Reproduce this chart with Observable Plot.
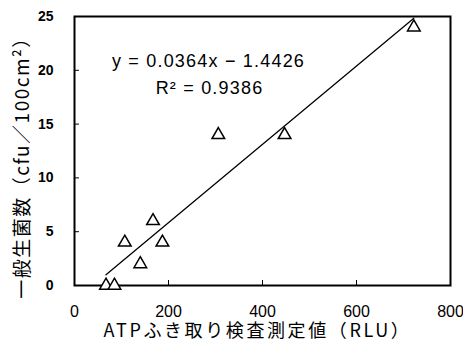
<!DOCTYPE html>
<html><head><meta charset="utf-8">
<script src="https://cdn.jsdelivr.net/npm/d3@7"></script>
<script src="https://cdn.jsdelivr.net/npm/@observablehq/plot@0.6"></script>
<style>body{margin:0;background:#fff}</style>
</head><body><div id="chart"></div>
<script>
const atpRLU = [67, 85, 107, 140, 167, 187, 306, 447, 722];
const bacteriaCount = [0, 0, 4, 2, 6, 4, 14, 14, 24];
const slope = 0.0364, intercept = -1.4426, rSquared = 0.9386;
const xTicks = [0, 200, 400, 600, 800];
const yTicks = [0, 5, 10, 15, 20, 25];
const xLabel = "ATPふき取り検査測定値（RLU）";
const yLabel = "一般生菌数（cfu／100cm²）";
const eqLabel = "y = 0.0364x − 1.4426";
const r2Label = "R² = 0.9386";

const points = atpRLU.map((x, i) => ({x, y: bacteriaCount[i]}));
const xMin = d3.min(atpRLU), xMax = d3.max(atpRLU);
const fitLine = [xMin, xMax].map(x => ({x, y: slope * x + intercept}));

const chart = Plot.plot({
  width: 463, height: 340,
  marginLeft: 74, marginRight: 13, marginTop: 16, marginBottom: 55,
  style: {fontFamily: "'Liberation Sans', 'Noto Sans CJK JP', sans-serif", fontSize: "14px", color: "black", background: "white"},
  x: {domain: [0, 800]},
  y: {domain: [0, 25]},
  marks: [
    Plot.axisX({ticks: xTicks, tickSize: -5, tickPadding: 25, label: null, fontSize: 16}),
    Plot.axisY({ticks: yTicks, tickSize: -5, tickPadding: 26, label: null, fontSize: 14, fontWeight: "bold"}),
    Plot.frame({stroke: "black", strokeWidth: 2}),
    Plot.line(fitLine, {x: "x", y: "y", stroke: "black", strokeWidth: 1.3}),
    Plot.dot(points, {x: "x", y: "y", symbol: "triangle", r: 4.7, stroke: "black", strokeWidth: 1.5, fill: "white"}),
    Plot.text([eqLabel], {frameAnchor: "top-left", textAnchor: "middle", lineAnchor: "middle", dx: 134, dy: 45, fontSize: 18}),
    Plot.text([r2Label], {frameAnchor: "top-left", textAnchor: "middle", lineAnchor: "middle", dx: 135, dy: 72, fontSize: 18}),
    Plot.text([xLabel], {frameAnchor: "bottom", textAnchor: "middle", lineAnchor: "middle", dx: -5, dy: 45.5, fontSize: 18, fontFamily: "'Noto Sans CJK JP', sans-serif"}),
    Plot.text([yLabel], {frameAnchor: "left", textAnchor: "middle", lineAnchor: "middle", rotate: -90, dx: -52, dy: 12, fontSize: 19, fontFamily: "'Noto Sans CJK JP', sans-serif"})
  ]
});
const spacing = new Map([[eqLabel, "1.2px"], [r2Label, "1.2px"], [xLabel, "2.6px"], [yLabel, "1.5px"]]);
d3.select(chart).selectAll("text").each(function() {
  const s = spacing.get(this.textContent);
  if (s) this.setAttribute("letter-spacing", s);
});
document.getElementById("chart").append(chart);
</script>
</body></html>
